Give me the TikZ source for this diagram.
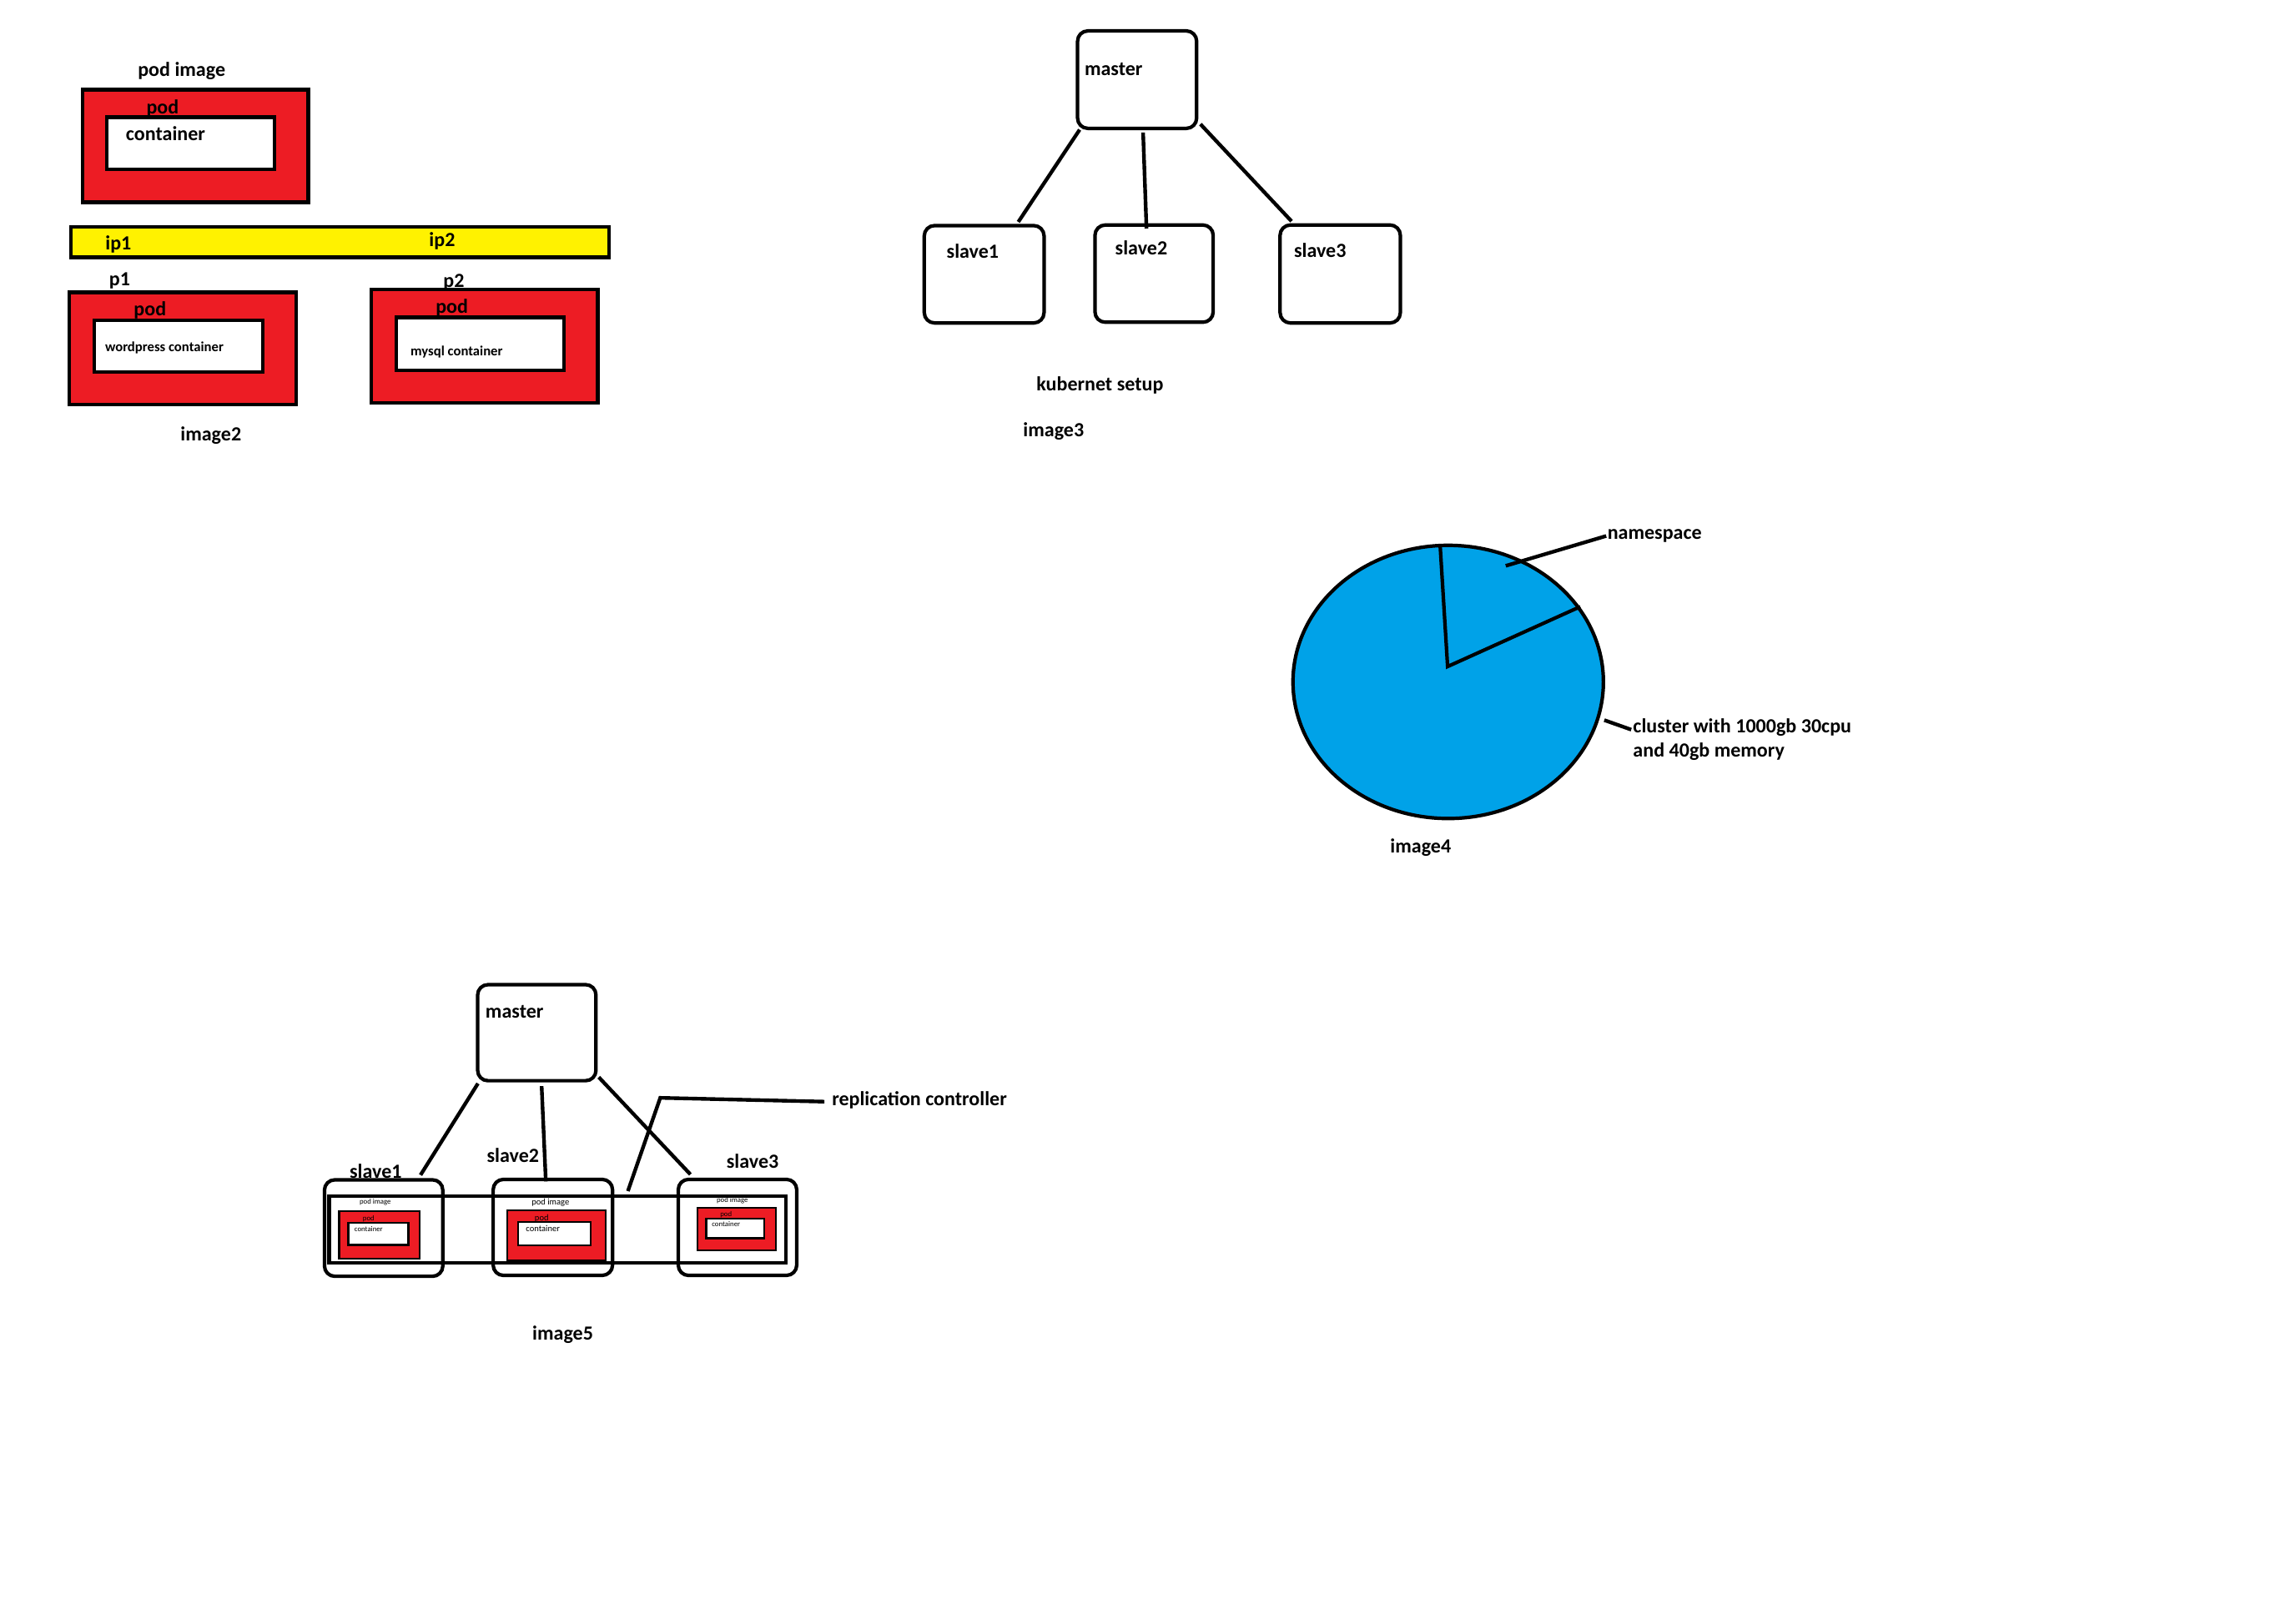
\documentclass[tikz,border=0pt]{standalone}
\usepackage{fontspec}
\setmainfont{Carlito}
\usetikzlibrary{calc,fit}
\definecolor{pred}{HTML}{ED1C24}
\definecolor{pyel}{HTML}{FFF200}
\definecolor{pblue}{HTML}{00A2E8}
\begin{document}
\begin{tikzpicture}[x=1pt,y=-1pt,
  lbl/.style={inner sep=0pt, anchor=base west, yshift=-1.1pt, font=\fontsize{13.7}{16}\selectfont\bfseries},
  sml/.style={inner sep=0pt, anchor=base west, yshift=-0.6pt, font=\fontsize{9.5}{11}\selectfont\bfseries},
  tinyA/.style={inner sep=0pt, anchor=base west, font=\fontsize{5}{6}\selectfont},
  tinyB/.style={inner sep=0pt, anchor=base west, font=\fontsize{6}{7}\selectfont},
  redbox/.style={draw, fill=pred, line width=2.4pt, inner sep=0pt},
  whitebox/.style={draw, fill=white, line width=2.4pt, inner sep=0pt},
  yelbar/.style={draw, fill=pyel, line width=2.4pt, inner sep=0pt},
  nodebox/.style={draw, line width=2.4pt, rounded corners=7pt, inner sep=0pt},
  smallred/.style={draw, fill=pred, line width=1.2pt, inner sep=0pt},
  smallwhite/.style={draw, fill=white, line width=1.4pt, inner sep=0pt},
  rcbox/.style={draw, line width=2.4pt, inner sep=0pt},
  conn/.style={line width=2.5pt},
  leader/.style={line width=2.5pt}
]
\useasboundingbox (0,0) rectangle (1568,1092);

% ---------- pod image ----------
\node[lbl] (tpodimg) at (94,50.9) {pod image};
\node[redbox, fit={(56.2,61.2) (210.5,138.2)}] (podA) {};
\node[whitebox, fit={(73,80) (187.6,115.6)}] (contA) {};
\node[lbl] (tpodA) at (99.8,76.4) {pod};
\node[lbl] (tcontA) at (85.8,95) {container};

% ---------- image2 ----------
\node[yelbar, fit={(48.6,155) (415.8,175.8)}] (ipbar) {};
\node[lbl] (tip1) at (71.8,169.4) {ip1};
\node[lbl] (tip2) at (292.9,167.1) {ip2};
\node[lbl] (tp1) at (74.4,194.1) {p1};
\node[lbl] (tp2) at (302.6,194.9) {p2};
\node[redbox, fit={(47.4,199.7) (202.2,276.5)}] (podP1) {};
\node[whitebox, fit={(64.6,218.7) (179.3,254.2)}] (contP1) {};
\node[lbl] (tpodP1) at (91.2,214.6) {pod};
\node[sml] (twp) at (71.6,239.7) {wordpress container};
\node[redbox, fit={(253.6,197.8) (408.2,275.2)}] (podP2) {};
\node[whitebox, fit={(270.7,216.8) (385.3,252.8)}] (contP2) {};
\node[lbl] (tpodP2) at (297.4,213.1) {pod};
\node[sml] (tmy) at (280.2,242.5) {mysql container};
\node[lbl] (timg2) at (123.1,300.1) {image2};

% ---------- image3 ----------
\node[nodebox, fit={(735.9,21.1) (817.2,87.7)}] (m3) {};
\node[nodebox, fit={(631.2,154.1) (713,220.6)}] (s31) {};
\node[nodebox, fit={(747.8,153.7) (828.5,220.1)}] (s32) {};
\node[nodebox, fit={(874.2,153.7) (956.3,220.6)}] (s33) {};
\node[lbl] (tm3) at (740.5,50.3) {master};
\node[lbl] (ts31) at (646.3,175.1) {slave1};
\node[lbl] (ts32) at (761.4,172.8) {slave2};
\node[lbl] (ts33) at (883.5,174.4) {slave3};
\draw[conn] ($(m3.south west)+(2.6,-0.3)$) -- ($(s31.north west)+(65.4,-1.3)$);
\draw[conn] ($(m3.south)+(4.1,1.6)$) -- ($(s32.north)+(-5.2,3.6)$);
\draw[conn] ($(m3.south east)+(1.4,-4.1)$) -- ($(s33.north west)+(9,-1.4)$);
\node[lbl] (tkub) at (707.7,265.9) {kubernet setup};
\node[lbl] (timg3) at (698.6,297.2) {image3};

% ---------- image4 ----------
\draw[fill=pblue, line width=2.4pt] (989,465.8) ellipse [x radius=106, y radius=93.3];
\coordinate (pc) at (988.6,455.3);
\draw[line width=2.4pt, line join=miter] (983.5,372.6) -- (pc) -- (1079.2,414.4);
\node[lbl] (tns) at (1097.6,367.1) {namespace};
\node[lbl] (tcl1) at (1115.1,499.5) {cluster with 1000gb 30cpu};
\node[lbl] (tcl2) at (1115.1,516.2) {and 40gb memory};
\coordinate (nsfoot) at (1028.3,386.5);
\coordinate (clfoot) at (1095.6,491.9);
\draw[leader] (nsfoot) -- ($(tns.base west)+(-0.7,-2.1)$);
\draw[leader] (clfoot) -- ($(tcl1.base west)+(-1.1,-2.2)$);
\node[lbl] (timg4) at (949.3,581.6) {image4};

% ---------- image5 ----------
\node[lbl] (ts51) at (238.6,803.8) {slave1};
\node[lbl] (ts52) at (332.3,792.6) {slave2};
\node[lbl] (ts53) at (496,796.8) {slave3};
\node[lbl] (tm5) at (331.4,694.2) {master};
\node[nodebox, fit={(326.2,672.6) (407,738.2)}] (m5) {};
\node[nodebox, fit={(221.6,805.9) (302.4,871.8)}] (s51) {};
\node[nodebox, fit={(336.8,805.6) (418.3,871.2)}] (s52) {};
\node[nodebox, fit={(463.2,805.6) (544.1,871.2)}] (s53) {};
\node[rcbox, fit={(224.8,817) (536.7,862.6)}] (rc) {};

\node[smallred, fit={(231.6,827.2) (286.6,859.8)}] (pod51) {};
\node[smallwhite, fit={(238,835.2) (279,850.3)}] (cont51) {};
\node[tinyA] at (245.4,822.5) {pod image};
\node[tinyA] at (247.6,834) {pod};
\node[tinyA] at (241.9,841) {container};

\node[smallred, fit={(346.2,826.8) (413.4,861)}] (pod52) {};
\node[smallwhite, fit={(353.9,834.8) (403.5,850.5)}] (cont52) {};
\node[tinyB] at (362.9,822.8) {pod image};
\node[tinyB] at (365,834) {pod};
\node[tinyB] at (359,841.5) {container};

\node[smallred, fit={(476.5,824.9) (530,854.3)}] (pod53) {};
\node[smallwhite, fit={(482.3,832.5) (522,845.7)}] (cont53) {};
\node[tinyA] at (489.3,821.5) {pod image};
\node[tinyA] at (491.7,831) {pod};
\node[tinyA] at (486,838) {container};

\draw[conn] ($(m5.south west)+(1.4,0.7)$) -- ($(s51.north east)+(-16.4,-2.1)$);
\draw[conn] ($(m5.south)+(3.3,2.5)$) -- ($(s52.north)+(-4.8,2.6)$);
\draw[conn] ($(m5.south east)+(0.7,-3.6)$) -- ($(s53.north west)+(9.5,-2.2)$);

\node[lbl] (trc) at (568,754) {replication controller};
\draw[conn] ($(rc.north west)+(205.2,-2.2)$) -- (450.9,749.9) -- ($(trc.base west)+(-5,-2.6)$);
\node[lbl] (timg5) at (363.4,914.5) {image5};
\end{tikzpicture}
\end{document}
